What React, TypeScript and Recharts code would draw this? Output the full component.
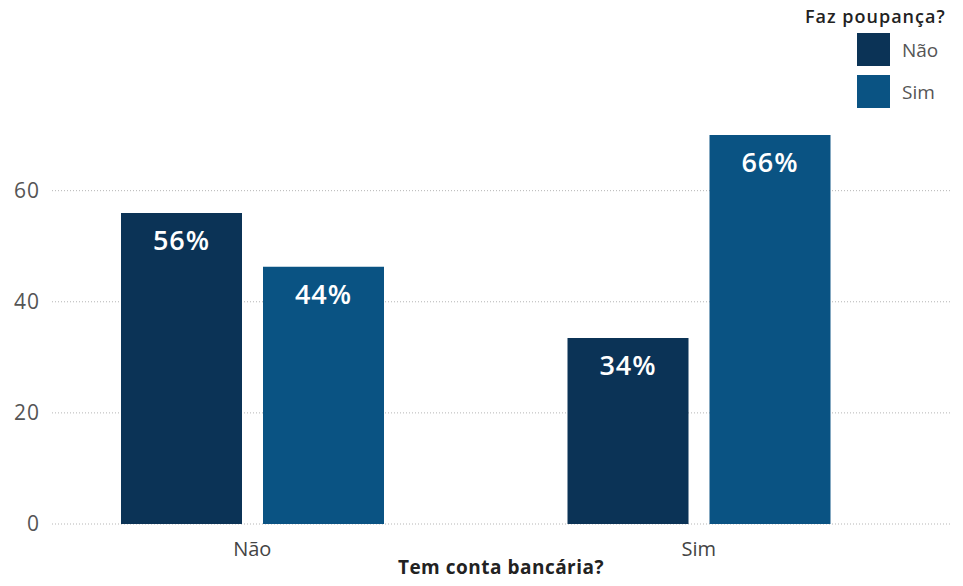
import React from "react";
import {
  BarChart,
  Bar,
  XAxis,
  YAxis,
  CartesianGrid,
  LabelList,
} from "recharts";

// categories on the x axis: "Tem conta bancária?"
const categories = ["Não", "Sim"];
// series: "Faz poupança?"
const naoValues = [56, 33.5];
const simValues = [46.3, 70];
const naoLabels = ["56%", "34%"];
const simLabels = ["44%", "66%"];
const yTicks = [0, 20, 40, 60];

const DARK = "#0b3356";
const LIGHT = "#0a5383";
const FONT = "'Open Sans', Lato, sans-serif";

const data = categories.map((c, i) => ({
  cat: c,
  nao: naoValues[i],
  sim: simValues[i],
  naoLabel: naoLabels[i],
  simLabel: simLabels[i],
}));

// legend drawn by hand, top right corner
function LegendBox() {
  const items = [
    { name: "Não", color: DARK },
    { name: "Sim", color: LIGHT },
  ];
  return (
    <div style={{ position: "absolute", top: 4, left: 805, fontFamily: FONT }}>
      <div style={{ fontWeight: 600, fontSize: 18, color: "#222", marginBottom: 5, letterSpacing: 1 }}>
        Faz poupança?
      </div>
      {items.map((it) => (
        <div key={it.name} style={{ display: "flex", alignItems: "center", marginLeft: 52, marginBottom: 9 }}>
          <div style={{ width: 33, height: 33, background: it.color }} />
          <span style={{ marginLeft: 12, fontSize: 19, color: "#555" }}>{it.name}</span>
        </div>
      ))}
    </div>
  );
}

const labelProps = {
  position: "insideTop" as const,
  offset: 18,
  fill: "#fff",
  fontSize: 27,
  fontFamily: FONT,
  fontWeight: 600,
  letterSpacing: 1,
};

export default function App() {
  return (
    <div style={{ position: "relative", width: 963, height: 586, margin: -8, background: "#fff" }}>
      <BarChart
        width={963}
        height={586}
        data={data}
        margin={{ top: 124, right: 13, left: 0, bottom: 0 }}
        barGap={21}
        barSize={121}
      >
        <CartesianGrid
          vertical={false}
          horizontalValues={yTicks}
          stroke="#b5b5b5"
          strokeDasharray="1 2"
        />
        <XAxis
          dataKey="cat"
          axisLine={false}
          tickLine={false}
          tickSize={0}
          tickMargin={18}
          height={62}
          padding={{ left: -23, right: 28 }}
          tick={{ fontSize: 20, fill: "#444", fontFamily: FONT }}
          label={{
            value: "Tem conta bancária?",
            position: "insideBottom",
            offset: 12,
            fontSize: 19,
            fontWeight: 700,
            fill: "#222",
            fontFamily: FONT,
            letterSpacing: 0.5,
          }}
        />
        <YAxis
          width={52}
          domain={[0, 72]}
          ticks={yTicks}
          axisLine={false}
          tickLine={false}
          tickSize={0}
          tickMargin={12}
          tick={{ fontSize: 21, fill: "#555", fontFamily: FONT, letterSpacing: 1 }}
        />
        <Bar dataKey="nao" name="Não" fill={DARK} isAnimationActive={false}>
          <LabelList dataKey="naoLabel" {...labelProps} />
        </Bar>
        <Bar dataKey="sim" name="Sim" fill={LIGHT} isAnimationActive={false}>
          <LabelList dataKey="simLabel" {...labelProps} />
        </Bar>
      </BarChart>
      <LegendBox />
    </div>
  );
}
